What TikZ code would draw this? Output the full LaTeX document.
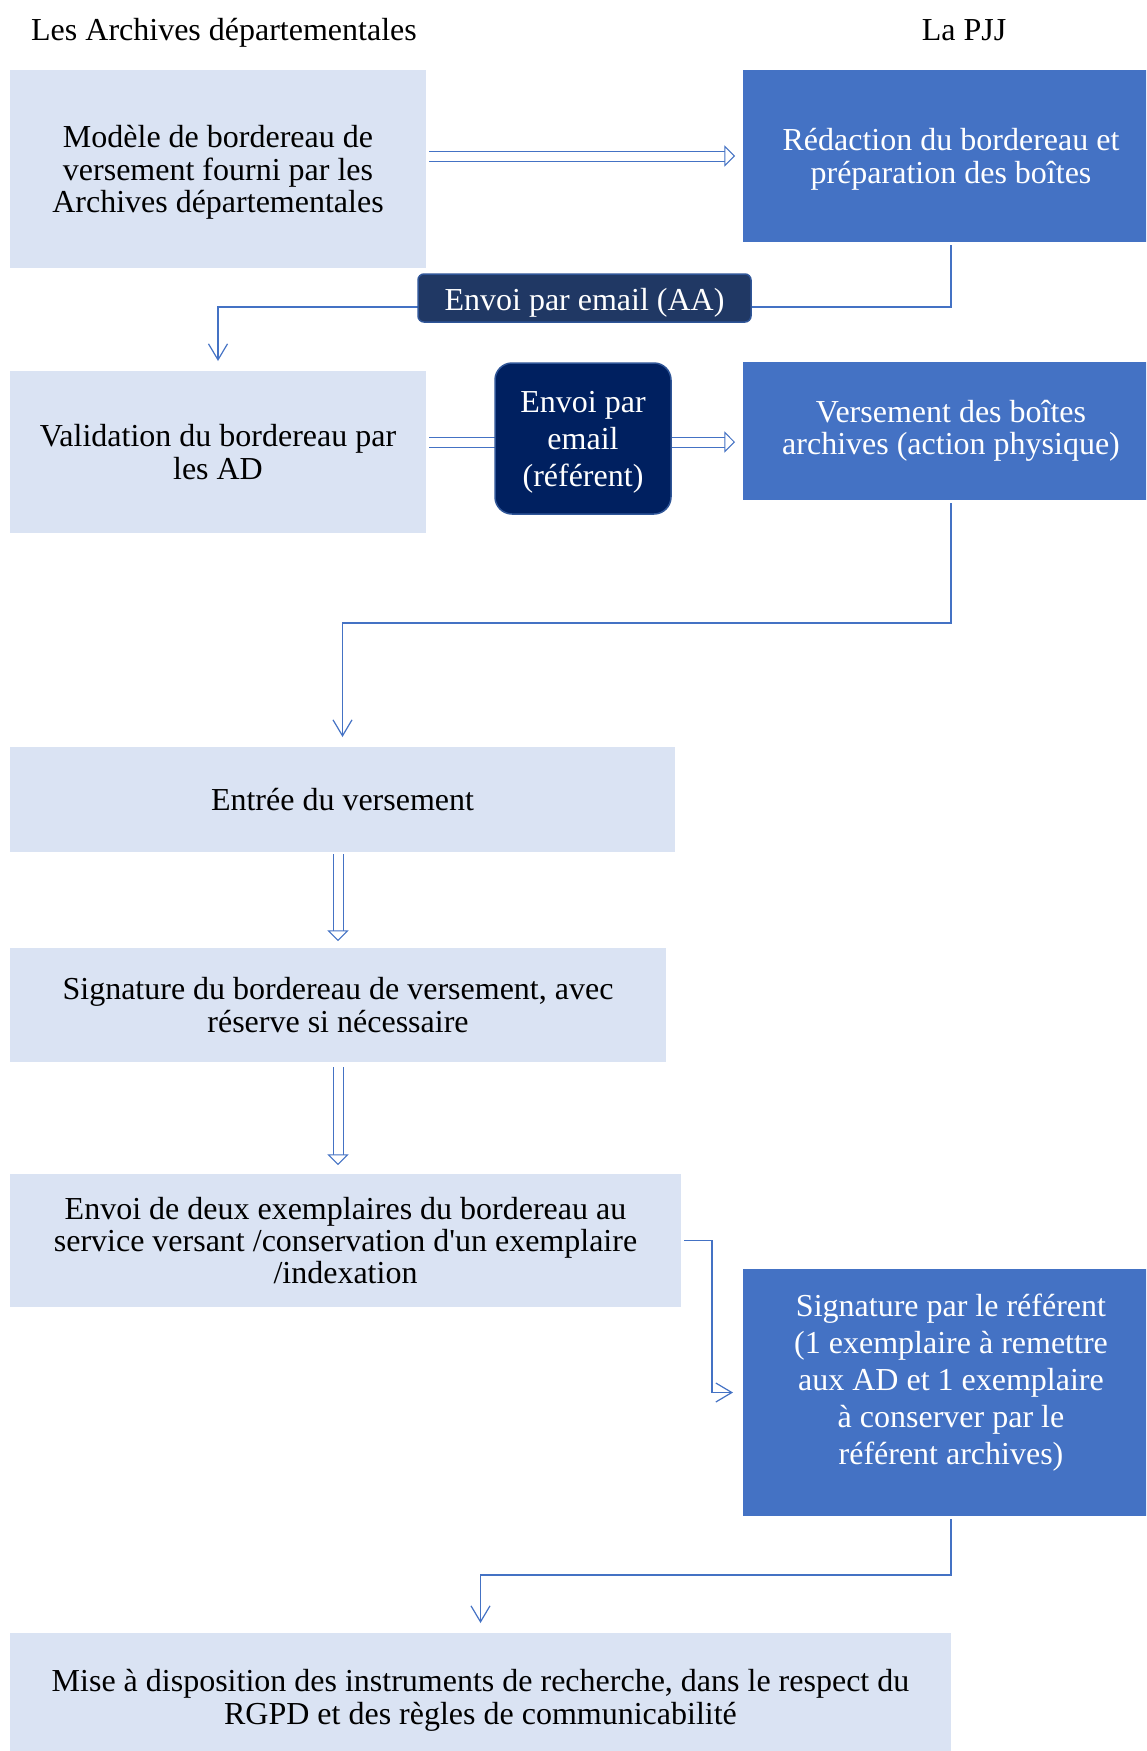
\documentclass[tikz,border=0pt]{standalone}
\usepackage{fontspec}
\setmainfont{Liberation Serif}
\usetikzlibrary{arrows.meta}

\definecolor{adlight}{HTML}{DAE3F3}
\definecolor{pjjblue}{HTML}{4472C4}
\definecolor{navyref}{HTML}{002060}
\definecolor{navymail}{HTML}{203864}
\definecolor{navyline}{HTML}{2F5597}
\definecolor{flowline}{HTML}{4472C4}

\tikzset{
    adbox/.style={fill=adlight, inner sep=0pt, outer sep=0pt, align=center, font=\fontsize{16}{16.2}\selectfont},
    pjjbox/.style={fill=pjjblue, text=white, inner sep=0pt, outer sep=0pt, align=center, font=\fontsize{16}{16.2}\selectfont},
    mailbox/.style={draw=navyline, line width=0.75pt, text=white, inner sep=0pt, outer sep=0pt, align=center, font=\fontsize{16}{18.5}\selectfont},
    flow/.style={draw=flowline, line width=0.6pt, -{Straight Barb[length=8pt,width=9.5pt]}, shorten <=1.5pt, shorten >=5pt},
    bigflow/.style={draw=flowline, line width=0.5pt, double=white, double distance=4.5pt, -{Triangle[open,fill=white,length=5.3pt,width=10.5pt]}}
}

\begin{document}
\begin{tikzpicture}[x=0.5pt,y=-0.5pt]
    \useasboundingbox (0,0) rectangle (1146,1751);
    \clip (0,0) rectangle (1146,1751);

    % column heads
    \node[anchor=base, font=\fontsize{16}{18.5}\selectfont] (hAD) at (224,40) {Les Archives départementales};
    \node[anchor=base, font=\fontsize{16}{18.5}\selectfont] (hPJJ) at (964,40) {La PJJ};

    % steps
    \node[adbox, minimum width=208pt, minimum height=99pt, text depth=0pt] (modele) at (218,169) {Modèle de bordereau de\\versement fourni par les\\Archives départementales};
    \node[pjjbox, minimum width=208pt, minimum height=86pt, text depth=0pt] (redac) at (951,156) {Rédaction du bordereau et\\préparation des boîtes};
    \node[adbox, minimum width=208pt, minimum height=81pt] (valid) at (218,452) {Validation du bordereau par\\les AD};
    \node[pjjbox, minimum width=208pt, minimum height=69pt] (versmt) at (951,431) {Versement des boîtes\\archives (action physique)};
    \node[adbox, minimum width=332.5pt, minimum height=52.5pt] (entree) at (342.5,799.5) {Entrée du versement};
    \node[adbox, minimum width=328pt, minimum height=57pt] (signAD) at (338,1005) {Signature du bordereau de versement, avec\\réserve si nécessaire};
    \node[adbox, minimum width=335.5pt, minimum height=66.5pt] (envoi) at (345.5,1240.5) {Envoi de deux exemplaires du bordereau au\\service versant /conservation d\textquotesingle un exemplaire\\/indexation};
    \node[pjjbox, minimum width=208pt, minimum height=123.5pt] (signref) at (951,1392.5) {};
    \node[text=white, align=center, font=\fontsize{16}{18.5}\selectfont] (signreftxt) at ([yshift=5pt]signref.center) {Signature par le référent\\(1 exemplaire à remettre\\aux AD et 1 exemplaire\\à conserver par le\\référent archives)};
    \node[adbox, minimum width=470.5pt, minimum height=64pt, text depth=0pt] (mise) at (480.5,1697) {Mise à disposition des instruments de recherche, dans le respect du\\RGPD et des règles de communicabilité};

    % bends
    \coordinate (k1) at (218,307);
    \coordinate (k2) at (342.5,623);
    \coordinate (k3) at (712,1240.5);
    \coordinate (k4) at (480.5,1575);

    \draw[bigflow, shorten <=1.5pt, shorten >=4pt] (modele.east |- redac.west) -- (redac.west);
    \draw[flow] (redac.south) |- (k1) -- (valid.north);
    \draw[bigflow, shorten <=1.5pt, shorten >=4pt] ([yshift=5pt]valid.east) -- ([yshift=5pt]valid.east -| versmt.west);
    \draw[flow] (versmt.south) |- (k2) -- (entree.north);
    \draw[bigflow, shorten <=1.2pt, shorten >=3.5pt] (signAD.north |- entree.south) -- (signAD.north);
    \draw[bigflow, shorten <=2.5pt, shorten >=4.5pt] (signAD.south) -- (signAD.south |- envoi.north);
    \draw[flow] (envoi.east) -- (k3) |- (signref.west);
    \draw[flow] (signref.south) |- (k4) -- (mise.north);

    % mail labels
    \node[mailbox, fill=navymail, rounded corners=3pt, minimum width=166.5pt, minimum height=24pt, text height=16pt, text depth=3.5pt] (mailAA) at (584.5,298) {Envoi par email (AA)};
    \node[mailbox, fill=navyref, rounded corners=8.5pt, minimum width=88pt, minimum height=75.5pt, text depth=0pt] (mailref) at (583,438.5) {Envoi par\\email\\(référent)};
\end{tikzpicture}
\end{document}
